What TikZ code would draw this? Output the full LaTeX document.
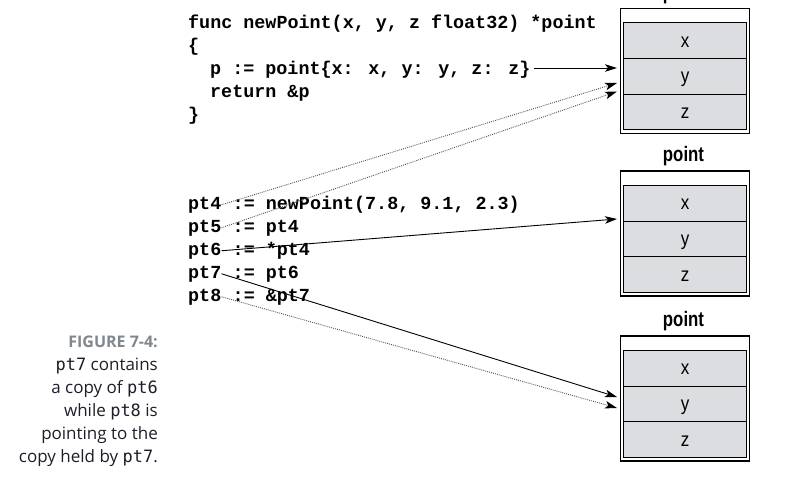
\documentclass[tikz,border=0pt]{standalone}
\usepackage{fontspec}
\usetikzlibrary{arrows.meta,calc}
\newfontfamily\codefont{Liberation Mono}
\newfontfamily\cellfont[FakeStretch=0.85]{Liberation Sans}
\newfontfamily\labfont[FakeStretch=0.8]{Liberation Sans}
\newfontfamily\capfont{Open Sans}
\newfontfamily\capmono{DejaVu Sans Mono}
\definecolor{cellgray}{HTML}{DCDDE0}
\definecolor{figgray}{HTML}{7F878F}
\definecolor{captext}{HTML}{1E1E2A}
\begin{document}
\begin{tikzpicture}[x=1pt,y=-1pt,
  code/.style={font=\codefont\bfseries\fontsize{18.4}{23}\selectfont, inner sep=0pt, anchor=base west},
  outerbox/.style={draw, line width=1.3pt, minimum width=128.6pt, minimum height=125pt, inner sep=0pt},
  cell/.style={draw, line width=1pt, fill=cellgray, minimum width=123.4pt, minimum height=35.7pt, inner sep=0pt,
    text height=13pt, text depth=0pt, font=\cellfont\fontsize{20}{20}\selectfont},
  boxlab/.style={font=\labfont\bfseries\fontsize{21}{21}\selectfont, anchor=base, inner sep=0pt},
  ptr/.style={-{Stealth[length=12pt,width=7.5pt,inset=3pt,color=black]}, line width=0.9pt},
  dotptr/.style={ptr, draw=gray!65!black, dash pattern=on 0.9pt off 1.1pt},
  captxt/.style={font=\capfont\fontsize{17}{23}\selectfont, text=captext, anchor=base east, inner sep=0pt}]
\useasboundingbox[fill=white] (0,0) rectangle (790,484);

% code block 1
\node[code] (l1) at (188,28.5) {func newPoint(x, y, z float32) *point};
\node[code] (l2) at (188,51.5) {\{};
\node[code] (l3) at (210,74.5) {p := point\{x: x, y: y, z: z\}};
\node[code] (l4) at (210,97.5) {return \&p};
\node[code] (l5) at (188,120.5) {\}};

% code block 2
\node[code] (pt4) at (188,209) {pt4};
\node[code] (r4) at ($(pt4.base east)+(11,0)$) {:= newPoint(7.8, 9.1, 2.3)};
\node[code] (pt5) at (188,232) {pt5};
\node[code] (r5) at ($(pt5.base east)+(11,0)$) {:= pt4};
\node[code] (pt6) at (188,255) {pt6};
\node[code] (r6) at ($(pt6.base east)+(11,0)$) {:= *pt4};
\node[code] (pt7) at (188,278) {pt7};
\node[code] (r7) at ($(pt7.base east)+(11,0)$) {:= pt6};
\node[code] (pt8) at (188,301) {pt8};
\node[code] (r8) at ($(pt8.base east)+(11,0)$) {:= \&pt7};

% boxes
\foreach \i/\T in {1/8.3, 2/171, 3/336} {
  \node[outerbox] (b\i) at (685,\T+62.5) {};
  \node[cell] (b\i x) at (685,\T+32.25) {x};
  \node[cell] (b\i y) at (685,\T+67.95) {y};
  \node[cell] (b\i z) at (685,\T+103.65) {z};
  \node[boxlab] (lab\i) at ($(b\i.north)+(-1.5,-8.5)$) {point};
}

% arrow end points
\coordinate (e1) at (617,68);
\coordinate (e2) at (617,83);
\coordinate (e3) at (617,91.5);
\coordinate (e4) at (617,219);
\coordinate (e5) at (617,397);
\coordinate (e6) at (617,408);
\coordinate (s1) at ($(l3.base east)+(3,-6.5)$);

\draw[ptr] (s1) -- (e1);
\draw[dotptr] (pt4.east) -- (e2);
\draw[dotptr] (pt5.east) -- (e3);
\draw[ptr] (pt6.east) -- (e4);
\draw[ptr] (pt7.east) -- (e5);
\draw[dotptr] (pt8.east) -- (e6);

% caption
\node[captxt, text=figgray, font=\capfont\bfseries\fontsize{16}{23}\selectfont] (c0) at (158,347) {FIGURE 7-4:};
\node[captxt] (c1) at (158,370) {{\capmono pt7} contains};
\node[captxt] (c2) at (158,393) {a copy of {\capmono pt6}};
\node[captxt] (c3) at (158,416) {while {\capmono pt8} is};
\node[captxt] (c4) at (158,439) {pointing to the};
\node[captxt] (c5) at (158,462) {copy held by {\capmono pt7}.};
\end{tikzpicture}
\end{document}
